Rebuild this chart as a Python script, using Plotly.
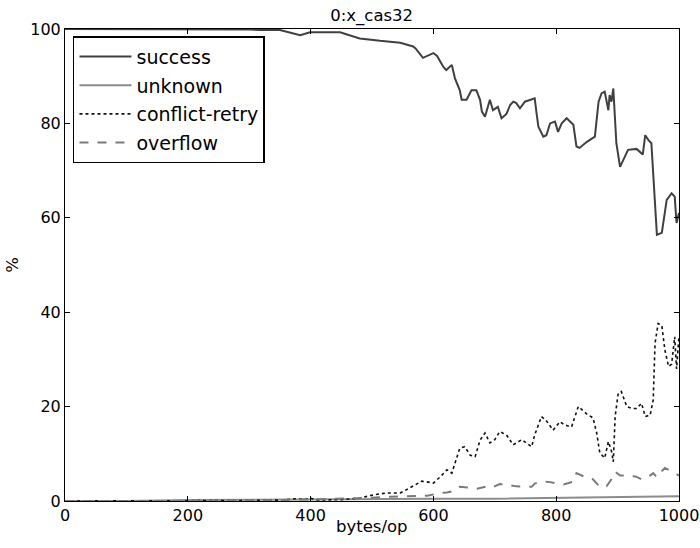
import plotly.graph_objects as go

# ---- data ----
success_x = [0, 50, 100, 150, 200, 250, 300, 318, 350, 383, 399, 448, 480, 513, 546, 567, 571, 583, 600, 606,
             616, 621, 630, 635, 643, 646, 654, 662, 670, 676, 679, 684, 692, 697, 705, 711, 719, 725, 730, 735,
             741, 749, 757, 765, 768, 771, 779, 784, 790, 798, 803, 809, 817, 828, 833, 838, 850, 863, 869, 874,
             879, 885, 887, 890, 893, 895, 898, 904, 909, 917, 931, 941, 945, 950, 955, 958, 964, 972, 980, 988,
             993, 996, 1000]
success_y = [100, 100, 100, 100, 100, 100, 99.9, 99.8, 99.8, 98.7, 99.3, 99.3, 98, 97.5, 97.1, 96.3, 95.9, 93.9, 94.9, 94.3,
             92, 91.3, 92.4, 89.6, 87, 85, 85, 87, 87, 85, 82.5, 81.4, 85, 82.8, 83.5, 81.1, 82, 83.9, 84.6, 84.3,
             83.2, 84.6, 85, 85.3, 82.2, 79.3, 77.2, 77.5, 80, 80.4, 78.2, 80, 81.1, 79.7, 75.1, 74.8, 76.1, 77.2, 84.6, 86.4,
             86.7, 82.8, 86, 84.6, 87.4, 82.2, 75.8, 70.8, 72.2, 74.4, 74.6, 73.4, 77.5, 76.5, 75.8, 70.1, 56.4, 56.8, 63.8, 65.2,
             64.5, 58.9, 61]

unknown_x = [0, 100, 200, 300, 400, 500, 600, 700, 800, 850, 900, 950, 1000]
unknown_y = [0, 0, 0.2, 0.3, 0.3, 0.4, 0.5, 0.5, 0.7, 0.8, 0.8, 0.9, 1.0]

conflict_x = [0, 100, 200, 300, 350, 380, 390, 400, 410, 450, 480, 502, 524, 546, 562, 581, 592, 600, 611, 622,
              630, 638, 643, 651, 660, 668, 676, 684, 692, 700, 708, 719, 730, 744, 760, 765, 776, 784, 795, 806,
              814, 825, 836, 850, 860, 866, 871, 879, 885, 890, 893, 896, 901, 906, 915, 923, 931, 939, 945, 953,
              958, 961, 966, 972, 977, 983, 988, 993, 996, 1000]
conflict_y = [0, 0, 0, 0.1, 0.2, 0.5, 0.3, 0.6, 0.2, 0.3, 0.6, 1.3, 1.7, 1.7, 2.8, 4.2, 4, 3.8, 5.1, 6.6,
              5.9, 9.1, 11.2, 11.5, 9.7, 9.4, 12.9, 14.4, 12.3, 13, 14.7, 14, 11.9, 13, 11.5, 14, 17.9, 17, 15, 16.8,
              16.1, 15.7, 20, 18.4, 17.6, 14.4, 10.2, 9.1, 12.6, 10.6, 8.3, 17.9, 22.8, 23.2, 20, 19.6, 19.6, 20.7, 17.9, 18.2,
              21.4, 33.4, 37.6, 37.2, 32, 28.5, 29, 34.8, 28, 35]

overflow_x = [0, 200, 350, 400, 450, 480, 530, 590, 611, 622, 638, 643, 660, 671, 687, 695, 708, 719, 735, 760,
              765, 779, 790, 801, 812, 828, 833, 850, 860, 871, 882, 890, 896, 904, 915, 929, 939, 953, 958, 964,
              969, 977, 983, 991, 1000]
overflow_y = [0, 0, 0.2, 0.3, 0.4, 0.6, 0.9, 1.1, 1.7, 1.8, 2.3, 3, 2.8, 2.6, 3.1, 2.8, 3.6, 3.5, 3.1, 3,
              3.7, 4.1, 4, 3.8, 3.5, 4.1, 5.9, 4.9, 4.6, 3, 3.1, 4.6, 6.2, 5.4, 5.4, 5.2, 4.6, 5.4, 5.9, 5,
              5.9, 7, 6.6, 5.9, 5.4]

x_ticks = [0, 200, 400, 600, 800, 1000]
y_ticks = [0, 20, 40, 60, 80, 100]

FONT = "DejaVu Sans"

fig = go.Figure()
fig.add_trace(go.Scatter(x=success_x, y=success_y, mode="lines", name="success", legendgroup="a",
                         line=dict(color="#404040", width=2)))
fig.add_trace(go.Scatter(x=unknown_x, y=unknown_y, mode="lines", name="unknown", legendgroup="b",
                         line=dict(color="#8c8c8c", width=2)))
fig.add_trace(go.Scatter(x=conflict_x, y=conflict_y, mode="lines", name="conflict-retry", legendgroup="c",
                         line=dict(color="#111111", width=1.6, dash="dot")))
fig.add_trace(go.Scatter(x=overflow_x, y=overflow_y, mode="lines", name="overflow", legendgroup="d",
                         line=dict(color="#7a7a7a", width=2, dash="dash")))

axis_common = dict(showgrid=False, zeroline=False, showline=True, linecolor="black", linewidth=1,
                   mirror="ticks", ticks="inside", ticklen=5, tickcolor="black", automargin=False,
                   tickfont=dict(family=FONT, size=16, color="black"))

fig.update_layout(
    width=700, height=548,
    margin=dict(l=65, r=21, t=29, b=47),
    paper_bgcolor="white", plot_bgcolor="white",
    title=dict(text="0:x_cas32", x=0.531, xanchor="center", y=0.973, yanchor="middle",
               font=dict(family=FONT, size=16.5, color="black")),
    xaxis=dict(range=[0, 1000], tickvals=x_ticks, ticktext=[str(v) for v in x_ticks], **axis_common),
    yaxis=dict(range=[0, 100], tickvals=y_ticks, ticktext=[str(v) for v in y_ticks],
               title=dict(text="%", font=dict(family=FONT, size=16.5, color="black"), standoff=7),
               **axis_common),
    legend=dict(x=0.013, y=0.985, xanchor="left", yanchor="top", bgcolor="white",
                bordercolor="black", borderwidth=1.5, tracegroupgap=1, itemwidth=52,
                font=dict(family=FONT, size=19, color="black")),
    showlegend=True,
    annotations=[dict(text="bytes/op", xref="paper", yref="paper", x=0.5, y=-0.055,
                      xanchor="center", yanchor="middle", showarrow=False,
                      font=dict(family=FONT, size=16.5, color="black"))],
)

fig.write_html("out.html", config={"displayModeBar": False},
               post_script="document.body.style.margin='0px';")
